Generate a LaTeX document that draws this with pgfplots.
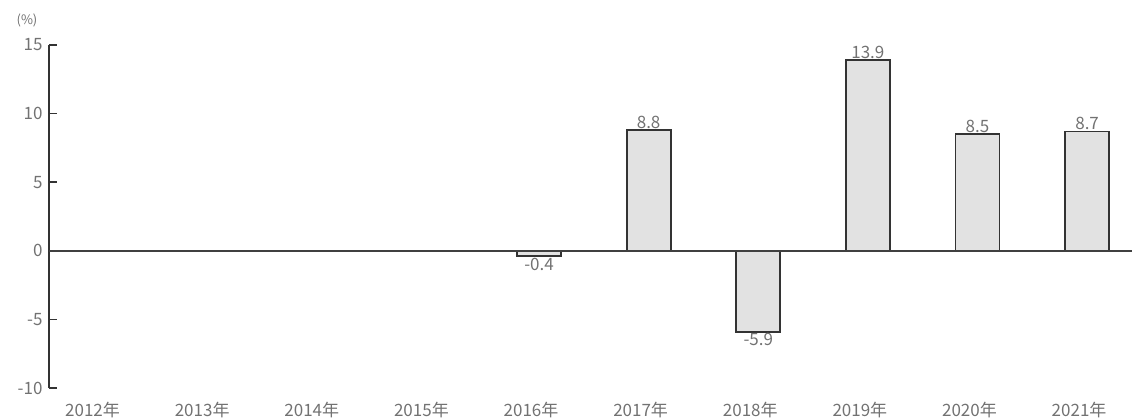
\documentclass[border=0pt]{standalone}
\usepackage{pgfplots}
\pgfplotsset{compat=1.18}
\usepackage{fontspec}
\setmainfont{Noto Sans CJK JP}
\definecolor{txt}{HTML}{727272}
\definecolor{barfill}{HTML}{E2E2E2}
\definecolor{baredge}{HTML}{333333}
\begin{document}
\begin{tikzpicture}
\useasboundingbox (0,0) rectangle (1132bp,419bp);
\begin{axis}[
  at={(49bp,31bp)}, anchor=south west,
  scale only axis, width=1083bp, height=343bp,
  xmin=-0.47, xmax=9.41, ymin=-10, ymax=15,
  axis x line*=bottom,
  x axis line style={draw=none},
  axis y line*=left,
  y axis line style={line width=1.8pt, draw=black!80, -},
  xtick={0,...,9},
  xticklabels={2012年,2013年,2014年,2015年,2016年,2017年,2018年,2019年,2020年,2021年},
  xtick style={draw=none},
  xticklabel style={text=txt, font=\fontsize{17bp}{19bp}\selectfont, xshift=-8bp, yshift=-3bp},
  ytick={-10,-5,0,5,10,15},
  yticklabel style={text=txt, font=\fontsize{17bp}{19bp}\selectfont, xshift=-3bp},
  /pgf/number format/assume math mode=true,
  major tick length=8bp,
  tick align=inside,
  ytick style={line width=1.6pt, draw=black!80},
  clip=false,
  ybar, bar width=44bp, bar shift=0pt,
]
\addplot[fill=barfill, draw=baredge, line width=1.8pt,
  nodes near coords, point meta=explicit symbolic,
  every node near coord/.append style={text=txt, font=\fontsize{17bp}{19bp}\selectfont, anchor=south, inner sep=0.5bp}]
  coordinates {(5,8.8)[8.8] (7,13.9)[13.9] (8,8.5)[8.5] (9,8.7)[8.7]};
\addplot[fill=barfill, draw=baredge, line width=1.8pt,
  nodes near coords, point meta=explicit symbolic,
  every node near coord/.append style={text=txt, font=\fontsize{17bp}{19bp}\selectfont, anchor=north, inner sep=1bp}]
  coordinates {(4,-0.4)[-0.4] (6,-5.9)[-5.9]};
\draw[line width=1.8pt, draw=black!75] (axis cs:-0.47,0) -- (axis cs:9.41,0);
\node[text=txt, font=\fontsize{13bp}{15bp}\selectfont, anchor=base] at ([xshift=-22bp,yshift=20bp]axis cs:-0.47,15) {(\%)};
\end{axis}
\end{tikzpicture}
\end{document}
